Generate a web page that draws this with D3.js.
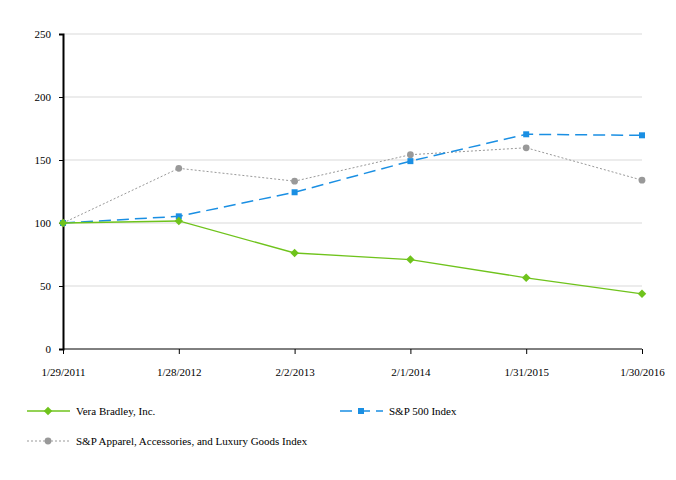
<!DOCTYPE html>
<html><head><meta charset="utf-8">
<script src="https://cdn.jsdelivr.net/npm/d3@7"></script>
<style>body{margin:0;background:#fff}svg text{font-family:"Liberation Serif","Times New Roman",serif !important;font-size:11px;fill:#000}</style>
</head><body><svg id="c" width="676" height="480"></svg>
<script>
const dates = ['1/29/2011', '1/28/2012', '2/2/2013', '2/1/2014', '1/31/2015', '1/30/2016']
const vera = [100, 101.6, 76.2, 71, 56.5, 43.8]
const sp500 = [100, 105.3, 124.4, 149.1, 170.4, 169.6]
const apparel = [100, 143.4, 133.2, 154.2, 159.7, 134]
const yTicks = [0, 50, 100, 150, 200, 250]

const svg = d3.select('#c')
const x = d3.scalePoint().domain(dates).range([63, 642])
const y = d3.scaleLinear().domain([0, 250]).range([349, 34])

// gridlines
svg.append('g').selectAll('line').data(yTicks.filter(t => t > 0)).join('line')
  .attr('x1', 63).attr('x2', 642).attr('y1', d => y(d)).attr('y2', d => y(d))
  .attr('stroke', '#d9d9d9').attr('stroke-width', 1)

const ya = svg.append('g').attr('transform', 'translate(63,0)')
  .call(d3.axisLeft(y).tickValues(yTicks).tickSize(4).tickPadding(8))
ya.attr('font-family', null)
ya.select('.domain').attr('stroke', '#000').attr('stroke-width', 2)
const xa = svg.append('g').attr('transform', 'translate(0,349)')
  .call(d3.axisBottom(x).tickSize(5).tickPadding(14).tickSizeOuter(0))
xa.attr('font-family', null)
xa.select('.domain').attr('d', 'M63,0H642').attr('stroke', '#000')

const series = [
  {name: 'Vera Bradley, Inc.', values: vera, color: '#6fc31c', dash: null, w: 1.3, shape: 'diamond', lx: 27, ly: 411},
  {name: 'S&P 500 Index', values: sp500, color: '#1a8fe3', dash: '12,6', w: 1.5, shape: 'square', lx: 340, ly: 411},
  {name: 'S&P Apparel, Accessories, and Luxury Goods Index', values: apparel, color: '#999', dash: '2,2', w: 1, shape: 'circle', lx: 27, ly: 441}
]
const sym = {diamond: d3.symbolSquare, square: d3.symbolSquare, circle: d3.symbolCircle}
const rot = s => s.shape === 'diamond' ? ' rotate(45)' : ''
const line = d3.line().x((d, i) => x(dates[i])).y(d => y(d))

series.slice().reverse().forEach(s => {
  svg.append('path').attr('d', line(s.values)).attr('fill', 'none')
    .attr('stroke', s.color).attr('stroke-width', s.w).attr('stroke-dasharray', s.dash)
  svg.append('g').selectAll('path').data(s.values).join('path')
    .attr('d', d3.symbol(sym[s.shape], 36))
    .attr('transform', (d, i) => `translate(${x(dates[i])},${y(d)})` + rot(s))
    .attr('fill', s.color)
})

series.forEach(s => {
  svg.append('line').attr('x1', s.lx).attr('x2', s.lx + 43).attr('y1', s.ly).attr('y2', s.ly)
    .attr('stroke', s.color).attr('stroke-width', s.w).attr('stroke-dasharray', s.dash)
  svg.append('path').attr('d', d3.symbol(sym[s.shape], 36))
    .attr('transform', `translate(${s.lx + 21},${s.ly})` + rot(s)).attr('fill', s.color)
  svg.append('text').attr('x', s.lx + 49).attr('y', s.ly + 4).text(s.name)
})
</script></body></html>
